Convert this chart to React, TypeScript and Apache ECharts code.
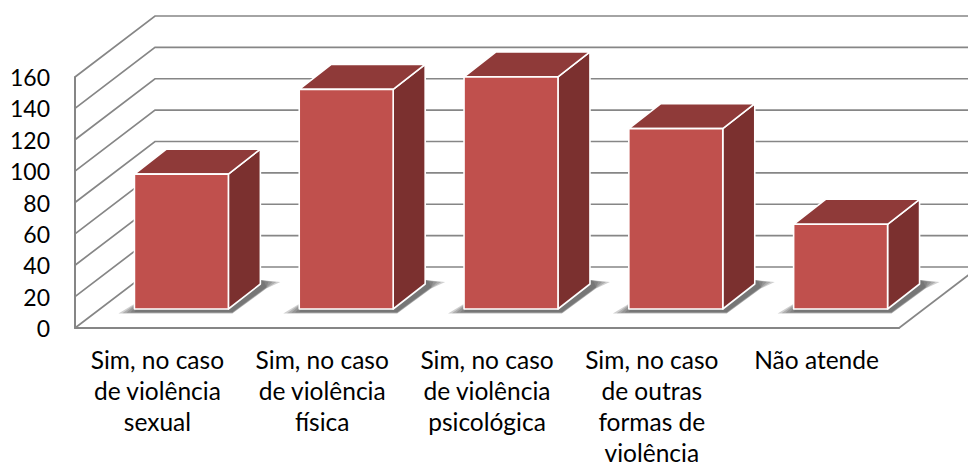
import React, { useEffect, useRef } from "react";
import * as echarts from "echarts";

const categories = [
  "Sim, no caso\nde violência\nsexual",
  "Sim, no caso\nde violência\nfísica",
  "Sim, no caso\nde violência\npsicológica",
  "Sim, no caso\nde outras\nformas de\nviolência",
  "Não atende",
];
const values = [86, 140, 148, 115, 54];
const yTicks = [0, 20, 40, 60, 80, 100, 120, 140, 160];

const WALL_DX = 80;
const WALL_DY = -61;
const BAR_OFFSET_X = 24;
const BAR_OFFSET_Y = -19;
const BAR_DX = 32;
const BAR_DY = -25;
const BAR_RATIO = 0.57;
const GRID_COLOR = "#868686";
const SHADOW_LAYERS = [8, 6, 4, 2, 0];

export default function App() {
  const ref = useRef<HTMLDivElement>(null);
  useEffect(() => {
    const chart = echarts.init(ref.current!, null, { renderer: "svg" });

    const renderWall = (params: any, api: any) => {
      const cs = params.coordSys;
      const y = api.coord([0, api.value(1)])[1];
      const left = cs.x;
      const right = cs.x + cs.width;
      const children: any[] = [
        {
          type: "polyline",
          shape: { points: [[left, y], [left + WALL_DX, y + WALL_DY], [right + WALL_DX, y + WALL_DY]] },
          style: { stroke: GRID_COLOR, lineWidth: 1.7, fill: "none" },
        },
      ];
      if (api.value(1) === 0) {
        children.push({
          type: "line",
          shape: { x1: right, y1: y, x2: right + WALL_DX, y2: y + WALL_DY },
          style: { stroke: GRID_COLOR, lineWidth: 1.7 },
        });
      }
      return { type: "group", children };
    };

    const geometry = (api: any) => {
      const band = api.size([1, 0])[0];
      const w = band * BAR_RATIO;
      const base = api.coord([api.value(0), 0]);
      const top = api.coord([api.value(0), api.value(1)]);
      const x0 = base[0] + BAR_OFFSET_X - w / 2;
      const x1 = x0 + w;
      const yb = base[1] + BAR_OFFSET_Y;
      const yt = top[1] + BAR_OFFSET_Y;
      return { x0, x1, yb, yt };
    };

    // Soft floor shadow: stacked translucent wedges that fade outwards.
    const renderShadow = (_: any, api: any) => {
      const { x0, x1, yb } = geometry(api);
      return {
        type: "group",
        children: SHADOW_LAYERS.map((g) => ({
          type: "polygon",
          shape: {
            points: [
              [x0 - 2 * g, yb + 3 + g * 0.2],
              [x1 + 4, yb + 3 + g * 0.2],
              [x1 + BAR_DX + 6, yb + BAR_DY + 3 + g * 0.2],
              [x1 + BAR_DX + 4 + 2 * g, yb + BAR_DY - 2],
              [x1 + BAR_DX, yb + BAR_DY - 4],
              [x0 + 8, yb - 10],
            ],
          },
          style: { fill: "rgba(85,85,85,0.28)" },
        })),
      };
    };

    const renderBar = (_: any, api: any) => {
      const { x0, x1, yb, yt } = geometry(api);
      const edge = { stroke: "#ffffff", lineWidth: 1.6, lineJoin: "round" };
      return {
        type: "group",
        children: [
          {
            type: "polygon",
            shape: { points: [[x1, yb], [x1 + BAR_DX, yb + BAR_DY], [x1 + BAR_DX, yt + BAR_DY], [x1, yt]] },
            style: { fill: "#7B302F", ...edge },
          },
          {
            type: "polygon",
            shape: { points: [[x0, yt], [x0 + BAR_DX, yt + BAR_DY], [x1 + BAR_DX, yt + BAR_DY], [x1, yt]] },
            style: { fill: "#8F3A39", ...edge },
          },
          {
            type: "rect",
            shape: { x: x0, y: yt, width: x1 - x0, height: yb - yt },
            style: { fill: "#C0504D", ...edge },
          },
        ],
      };
    };

    const barData = values.map((v, i) => [i, v]);

    chart.setOption({
      animation: false,
      backgroundColor: "#ffffff",
      grid: { left: 75, right: 69, top: 77, bottom: 140, containLabel: false, outerBoundsMode: "none" },
      xAxis: {
        type: "category",
        data: categories,
        axisLine: { show: true, lineStyle: { color: GRID_COLOR, width: 2 } },
        axisTick: { show: false },
        splitLine: { show: false },
        axisLabel: {
          interval: 0,
          margin: 16,
          color: "#000000",
          fontFamily: "Lato",
          fontSize: 24.5,
          lineHeight: 31,
          hideOverlap: false,
        },
      },
      yAxis: {
        type: "value",
        min: 0,
        max: 160,
        interval: 20,
        axisLine: { show: true, lineStyle: { color: GRID_COLOR, width: 2 } },
        axisTick: { show: false },
        splitLine: { show: false },
        axisLabel: { margin: 25, color: "#000000", fontFamily: "Lato", fontSize: 23 },
      },
      series: [
        { type: "custom", z: 1, clip: false, silent: true, renderItem: renderWall, data: yTicks.map((t) => [0, t]) },
        { type: "custom", z: 2, clip: false, silent: true, renderItem: renderShadow, data: barData },
        { type: "custom", z: 3, clip: false, silent: true, renderItem: renderBar, data: barData },
      ],
    });
    return () => chart.dispose();
  }, []);
  return <div ref={ref} style={{ position: "absolute", left: 0, top: 0, width: 968, height: 468 }} />;
}
